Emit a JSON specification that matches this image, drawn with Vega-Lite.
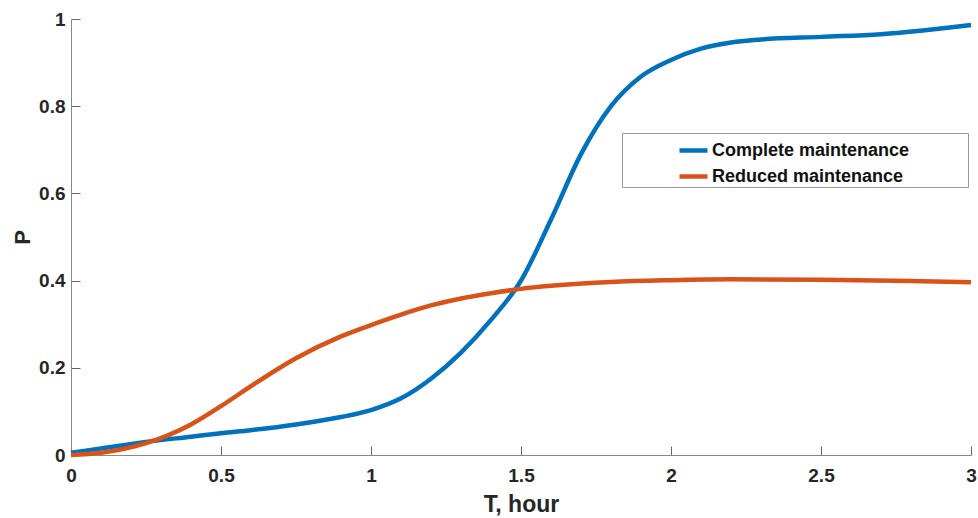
{
  "$schema": "https://vega.github.io/schema/vega-lite/v6.json",
  "width": 900,
  "height": 436,
  "autosize": "none",
  "padding": {"left": 71, "top": 19, "right": 7, "bottom": 63},
  "background": "white",
  "config": {"view": {"stroke": null}, "font": "Liberation Sans"},
  "data": {"values": [
    {"s": "Complete maintenance", "T": 0, "P": 0.005},
    {"s": "Complete maintenance", "T": 0.1, "P": 0.015},
    {"s": "Complete maintenance", "T": 0.25, "P": 0.03},
    {"s": "Complete maintenance", "T": 0.4, "P": 0.042},
    {"s": "Complete maintenance", "T": 0.5, "P": 0.05},
    {"s": "Complete maintenance", "T": 0.6, "P": 0.057},
    {"s": "Complete maintenance", "T": 0.75, "P": 0.07},
    {"s": "Complete maintenance", "T": 0.9, "P": 0.087},
    {"s": "Complete maintenance", "T": 1.0, "P": 0.103},
    {"s": "Complete maintenance", "T": 1.1, "P": 0.13},
    {"s": "Complete maintenance", "T": 1.2, "P": 0.175},
    {"s": "Complete maintenance", "T": 1.3, "P": 0.235},
    {"s": "Complete maintenance", "T": 1.4, "P": 0.31},
    {"s": "Complete maintenance", "T": 1.5, "P": 0.4},
    {"s": "Complete maintenance", "T": 1.6, "P": 0.54},
    {"s": "Complete maintenance", "T": 1.7, "P": 0.69},
    {"s": "Complete maintenance", "T": 1.8, "P": 0.8},
    {"s": "Complete maintenance", "T": 1.9, "P": 0.868},
    {"s": "Complete maintenance", "T": 2.0, "P": 0.906},
    {"s": "Complete maintenance", "T": 2.1, "P": 0.932},
    {"s": "Complete maintenance", "T": 2.2, "P": 0.946},
    {"s": "Complete maintenance", "T": 2.3, "P": 0.953},
    {"s": "Complete maintenance", "T": 2.5, "P": 0.959},
    {"s": "Complete maintenance", "T": 2.7, "P": 0.965},
    {"s": "Complete maintenance", "T": 2.9, "P": 0.978},
    {"s": "Complete maintenance", "T": 3.0, "P": 0.986},
    {"s": "Reduced maintenance", "T": 0, "P": 0},
    {"s": "Reduced maintenance", "T": 0.1, "P": 0.005},
    {"s": "Reduced maintenance", "T": 0.25, "P": 0.027},
    {"s": "Reduced maintenance", "T": 0.4, "P": 0.07},
    {"s": "Reduced maintenance", "T": 0.5, "P": 0.112},
    {"s": "Reduced maintenance", "T": 0.6, "P": 0.158},
    {"s": "Reduced maintenance", "T": 0.75, "P": 0.222},
    {"s": "Reduced maintenance", "T": 0.9, "P": 0.272},
    {"s": "Reduced maintenance", "T": 1.0, "P": 0.298},
    {"s": "Reduced maintenance", "T": 1.1, "P": 0.322},
    {"s": "Reduced maintenance", "T": 1.2, "P": 0.343},
    {"s": "Reduced maintenance", "T": 1.3, "P": 0.359},
    {"s": "Reduced maintenance", "T": 1.4, "P": 0.371},
    {"s": "Reduced maintenance", "T": 1.5, "P": 0.381},
    {"s": "Reduced maintenance", "T": 1.6, "P": 0.388},
    {"s": "Reduced maintenance", "T": 1.8, "P": 0.397},
    {"s": "Reduced maintenance", "T": 2.0, "P": 0.401},
    {"s": "Reduced maintenance", "T": 2.2, "P": 0.403},
    {"s": "Reduced maintenance", "T": 2.5, "P": 0.402},
    {"s": "Reduced maintenance", "T": 2.8, "P": 0.399},
    {"s": "Reduced maintenance", "T": 3.0, "P": 0.396}
  ]},
  "mark": {"type": "line", "interpolate": "monotone", "strokeWidth": 4.5},
  "encoding": {
    "x": {"field": "T", "type": "quantitative", "title": "T, hour",
      "scale": {"domain": [0, 3], "nice": false},
      "axis": {"values": [0, 0.5, 1, 1.5, 2, 2.5, 3], "format": "~g", "grid": false, "labelFlush": false,
        "domainColor": "#888888", "tickColor": "#666666", "tickSize": -9,
        "labelFont": "Liberation Sans", "labelFontWeight": "bold", "labelFontSize": 19, "labelColor": "#262626", "labelPadding": 20,
        "titleFont": "Liberation Sans", "titleFontWeight": "bold", "titleFontSize": 23, "titleColor": "#262626", "titlePadding": 8}},
    "y": {"field": "P", "type": "quantitative", "title": "P",
      "scale": {"domain": [0, 1], "nice": false},
      "axis": {"values": [0, 0.2, 0.4, 0.6, 0.8, 1], "format": "~g", "grid": false, "labelFlush": false,
        "domainColor": "#888888", "tickColor": "#666666", "tickSize": -9,
        "labelFont": "Liberation Sans", "labelFontWeight": "bold", "labelFontSize": 19, "labelColor": "#262626", "labelPadding": 15,
        "titleFont": "Liberation Sans", "titleFontWeight": "bold", "titleFontSize": 22, "titleColor": "#262626", "titlePadding": 4}},
    "color": {"field": "s", "type": "nominal", "title": null,
      "scale": {"domain": ["Complete maintenance", "Reduced maintenance"], "range": ["#0072BD", "#D95319"]},
      "legend": {"orient": "none", "legendX": 551, "legendY": 114, "symbolType": "stroke", "symbolStrokeWidth": 4.5, "symbolSize": 784, "symbolOffset": 54,
        "labelExpr": "datum.label + '\u00a0\u2800\u2800\u2800\u2800'",
        "labelFont": "Liberation Sans", "labelFontWeight": "bold", "labelFontSize": 18, "labelColor": "#111111", "labelOffset": 2,
        "strokeColor": "#999999", "fillColor": "white", "padding": 1, "rowPadding": -4, "labelLimit": 500}}
  }
}
